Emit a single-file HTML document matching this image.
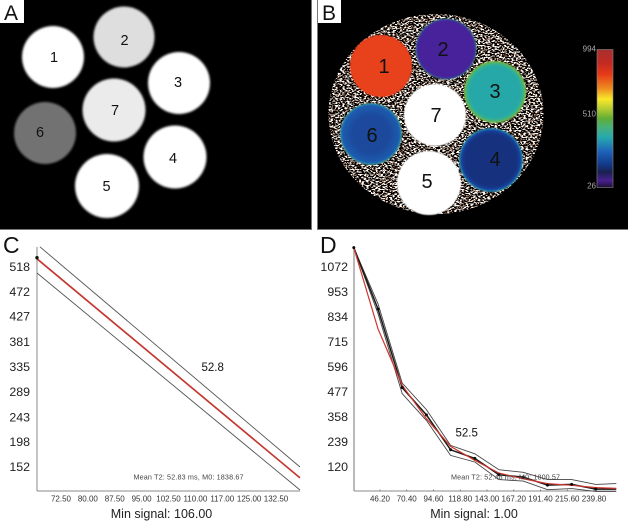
<!DOCTYPE html>
<html lang="en">
<head>
<meta charset="utf-8">
<title>T2 phantom maps and decay curves</title>
<style>
html,body{margin:0;padding:0;background:#fff;width:628px;height:523px;overflow:hidden}
svg{display:block;font-family:"Liberation Sans",sans-serif}
.lbl{font-size:21px;fill:#111}
.tick{font-size:12.4px;fill:#222;text-anchor:end;dominant-baseline:central}
.xtick{font-size:8px;fill:#333;text-anchor:middle;dominant-baseline:central}
.xtitle{font-size:12.5px;fill:#222;text-anchor:middle;dominant-baseline:central}
.note{font-size:7.2px;fill:#444;dominant-baseline:central}
.val{font-size:11.5px;fill:#111;dominant-baseline:central}
.na{font-size:14.5px;fill:#111;text-anchor:middle;dominant-baseline:central}
.nb{font-size:20px;fill:#111;text-anchor:middle;dominant-baseline:central}
.cb{font-size:8px;fill:#aaa;text-anchor:end;dominant-baseline:central}
</style>
</head>
<body>
<svg id="fig" width="628" height="523" viewBox="0 0 628 523" xmlns="http://www.w3.org/2000/svg">
<defs>
<filter id="soft" x="-10%" y="-10%" width="120%" height="120%"><feGaussianBlur stdDeviation="1"/></filter>
<filter id="soft2" x="-5%" y="-5%" width="110%" height="110%"><feGaussianBlur stdDeviation="0.5"/></filter>
<filter id="speckle" x="0" y="0" width="100%" height="100%" color-interpolation-filters="sRGB">
<feTurbulence type="fractalNoise" baseFrequency="0.42 0.75" numOctaves="2" seed="7"/>
<feColorMatrix type="matrix" values="14 0 0 0 -6.85  14 0 0 0 -7  14 0 0 0 -7.1  0 0 0 0 1"/>
<feGaussianBlur stdDeviation="0.3"/>
</filter>
<linearGradient id="cbar" x1="0" y1="0" x2="0" y2="1">
<stop offset="0" stop-color="#a83030"/><stop offset=".1" stop-color="#c42a22"/><stop offset=".18" stop-color="#e63a18"/>
<stop offset=".28" stop-color="#ee8a20"/><stop offset=".36" stop-color="#f8e92a"/><stop offset=".42" stop-color="#c0cf30"/>
<stop offset=".5" stop-color="#5fae35"/><stop offset=".57" stop-color="#45b080"/><stop offset=".64" stop-color="#25a8b0"/>
<stop offset=".74" stop-color="#1f62b8"/><stop offset=".83" stop-color="#123a8a"/><stop offset=".89" stop-color="#1a2050"/>
<stop offset=".95" stop-color="#4a2090"/><stop offset="1" stop-color="#1a1030"/>
</linearGradient>
<radialGradient id="g1"><stop offset=".9" stop-color="#e8431c"/><stop offset="1" stop-color="#ea3a18"/></radialGradient>
<radialGradient id="g2"><stop offset=".9" stop-color="#47229a"/><stop offset=".97" stop-color="#3a3a98"/><stop offset="1" stop-color="#3fa090"/></radialGradient>
<radialGradient id="g3"><stop offset=".8" stop-color="#26a8a8"/><stop offset=".9" stop-color="#35b090"/><stop offset=".97" stop-color="#63b848"/><stop offset="1" stop-color="#90b840"/></radialGradient>
<radialGradient id="g4"><stop offset=".8" stop-color="#15307e"/><stop offset=".92" stop-color="#16409a"/><stop offset=".98" stop-color="#1f80b0"/><stop offset="1" stop-color="#50a8a0"/></radialGradient>
<radialGradient id="g6"><stop offset=".6" stop-color="#1a4a9c"/><stop offset=".92" stop-color="#1c5cb0"/><stop offset=".98" stop-color="#2a90a8"/><stop offset="1" stop-color="#80b070"/></radialGradient>
<clipPath id="disc"><ellipse cx="436" cy="114" rx="107.5" ry="100"/></clipPath>
</defs>

<!-- Panel A -->
<g>
<rect x="0" y="0" width="312" height="230" fill="#777"/>
<rect x="0" y="0" width="311" height="229" fill="#000"/>
<g filter="url(#soft)">
<circle cx="53" cy="57" r="31" fill="#fff"/>
<circle cx="124" cy="37" r="30.5" fill="#dedede"/>
<circle cx="179" cy="83" r="31" fill="#fff"/>
<circle cx="114" cy="110" r="31.5" fill="#ebebeb"/>
<circle cx="45" cy="133" r="31" fill="#727272"/>
<circle cx="175" cy="157" r="31.5" fill="#fff"/>
<circle cx="107" cy="186" r="32" fill="#fff"/>
</g>
<text class="na" x="54" y="58">1</text><text class="na" x="124.500" y="41">2</text><text class="na" x="178" y="83">3</text>
<text class="na" x="173" y="159">4</text><text class="na" x="106.500" y="187">5</text><text class="na" x="40" y="133">6</text><text class="na" x="115" y="111">7</text>
<rect x="0" y="0" width="24" height="23" fill="#fff"/>
<text class="lbl" x="4" y="20">A</text>
</g>

<!-- Panel B -->
<g>
<rect x="317" y="0" width="311" height="230" fill="#777"/>
<rect x="318" y="0" width="310" height="229" fill="#000"/>
<g clip-path="url(#disc)"><rect x="325" y="10" width="225" height="210" filter="url(#speckle)"/></g>
<g filter="url(#soft2)">
<circle cx="381" cy="66" r="31" fill="url(#g1)"/>
<circle cx="446" cy="49" r="30.500" fill="url(#g2)"/>
<circle cx="495" cy="92" r="31" fill="url(#g3)"/>
<circle cx="435" cy="115" r="31" fill="#fff"/>
<circle cx="371" cy="134" r="31" fill="url(#g6)"/>
<circle cx="491" cy="160" r="32" fill="url(#g4)"/>
<circle cx="429" cy="183" r="32" fill="#fff"/>
</g>
<text class="nb" x="384" y="67">1</text><text class="nb" x="443" y="50">2</text><text class="nb" x="495" y="92">3</text>
<text class="nb" x="495" y="160">4</text><text class="nb" x="427" y="182">5</text><text class="nb" x="372" y="136">6</text><text class="nb" x="436" y="116">7</text>
<rect x="318" y="0" width="23" height="23" fill="#fff"/>
<text class="lbl" x="322" y="20">B</text>
<rect x="597" y="49.500" width="16" height="138" fill="url(#cbar)" stroke="#888" stroke-width=".6"/>
<text class="cb" x="596" y="49">994</text>
<text class="cb" x="596" y="114">510</text>
<text class="cb" x="596" y="186">26</text>
</g>

<text class="lbl" x="3" y="253" style="font-size:23px">C</text>
<text class="lbl" x="320" y="253" style="font-size:23px">D</text>
<text class="xtitle" x="161.500" y="514">Min signal: 106.00</text>
<text class="xtitle" x="474" y="514">Min signal: 1.00</text>
<text class="val" x="201.500" y="368">52.8</text>
<text class="val" x="455.500" y="433.500">52.5</text>
<g id="chartC"></g>
<g id="chartD"></g>
<text class="note" x="133.500" y="477" textLength="110">Mean T2: 52.83 ms, M0: 1838.67</text>
<text class="note" x="451" y="477" textLength="109">Mean T2: 52.48 ms, M0: 1800.57</text>
</svg>

<script>
// Panel C data
const cYTicks = [518, 472, 427, 381, 335, 289, 243, 198, 152];
const cXTicks = [72.5, 80, 87.5, 95, 102.5, 110, 117.5, 125, 132.5];
const cXTickLabels = ["72.50", "80.00", "87.50", "95.00", "102.50", "110.00", "117.00", "125.00", "132.50"];
const cTimes = [65.8, 139.2];
const cUpperTimes = [66.6, 139.2];
const cFit = [533, 132];
const cUpper = [555, 152];
const cLower = [507, 110];
const cPointTime = [65.8];
const cPointValue = [535];

// Panel D data
const dYTicks = [1072, 953, 834, 715, 596, 477, 358, 239, 120];
const dXTicks = [46.2, 70.4, 94.6, 118.8, 143, 167.2, 191.4, 215.6, 239.8];
const dXTickLabels = ["46.20", "70.40", "94.60", "118.80", "143.00", "167.20", "191.40", "215.60", "239.80"];
const dTimes = [22.5, 44.4, 66.3, 88.2, 110.1, 132, 153.9, 175.8, 197.7, 219.6, 241.5, 260];
const dSignal = [1164, 872, 498, 368, 202, 161, 83, 72, 34, 37, 15, 15];
const dUpper = [1164, 897, 520, 393, 223, 183, 107, 95, 60, 60, 37, 41];
const dLower = [1164, 850, 469, 342, 175, 144, 60, 53, 12, 17, 4, 4];
const dFit = [1164, 778, 509, 350, 218, 152, 91, 64, 41, 33, 22, 18];

const NS = "http://www.w3.org/2000/svg";
function add(parent, tag, attrs, text) {
  const el = document.createElementNS(NS, tag);
  for (const k in attrs) el.setAttribute(k, attrs[k]);
  if (text !== undefined) el.textContent = text;
  parent.appendChild(el);
  return el;
}
// Axis functions
const cx = v => 61 + (v - 72.5) * (215 / 60);
const cy = v => 267 + (518 - v) * (200 / 366);
const dx = v => 380 + (v - 46.2) * (214 / 193.6);
const dy = v => 467 + (120 - v) * (200 / 952);
function pts(xs, ys, fx, fy) {
  return xs.map((x, i) => fx(x).toFixed(1) + "," + fy(ys[i]).toFixed(1)).join(" ");
}

const C = document.getElementById("chartC");
const D = document.getElementById("chartD");

// Panel C axes
let e;
e = add(C, "line", {x1: 37, y1: 247, x2: 37, y2: 491, stroke: "#8a8a8a", "stroke-width": 1});


e = add(C, "line", {x1: 37, y1: 491, x2: 300, y2: 491, stroke: "#8a8a8a", "stroke-width": 1});


cYTicks.forEach(v => {
  const t = add(C, "text", {class: "tick", x: 30, y: cy(v)}, String(v));
  
  
});
cXTicks.forEach((v, i) => {
  const t = add(C, "text", {class: "xtick", x: cx(v), y: 499}, cXTickLabels[i]);
  
  
});
// Panel C series
e = add(C, "polyline", {points: pts(cUpperTimes, cUpper, cx, cy), fill: "none", stroke: "#555", "stroke-width": 0.9});


e = add(C, "polyline", {points: pts(cTimes, cLower, cx, cy), fill: "none", stroke: "#555", "stroke-width": 0.9});


e = add(C, "polyline", {points: pts(cTimes, cFit, cx, cy), fill: "none", stroke: "#c23a30", "stroke-width": 1.7});


cPointTime.forEach((v, i) => {
  const p = add(C, "circle", {cx: cx(v), cy: cy(cPointValue[i]), r: 1.7, fill: "#111"});
  
  
});

// Panel D axes
e = add(D, "line", {x1: 354, y1: 247, x2: 354, y2: 491, stroke: "#a8a8a8", "stroke-width": 1.6});


e = add(D, "line", {x1: 354, y1: 491, x2: 616, y2: 491, stroke: "#8a8a8a", "stroke-width": 1});


dYTicks.forEach(v => {
  const t = add(D, "text", {class: "tick", x: 348, y: dy(v)}, String(v));
  
  
});
dXTicks.forEach((v, i) => {
  const t = add(D, "text", {class: "xtick", x: dx(v), y: 499}, dXTickLabels[i]);
  
  
  const m = add(D, "line", {x1: dx(v), y1: 489.5, x2: dx(v), y2: 491, stroke: "#666", "stroke-width": 0.8});
  
  
});
// Panel D series
e = add(D, "polyline", {points: pts(dTimes, dUpper, dx, dy), fill: "none", stroke: "#444", "stroke-width": 0.9});


e = add(D, "polyline", {points: pts(dTimes, dLower, dx, dy), fill: "none", stroke: "#444", "stroke-width": 0.9});


e = add(D, "polyline", {points: pts(dTimes, dSignal, dx, dy), fill: "none", stroke: "#1a1a1a", "stroke-width": 1.5});


e = add(D, "polyline", {points: pts(dTimes, dFit, dx, dy), fill: "none", stroke: "#d2352c", "stroke-width": 1.2});


dTimes.forEach((v, i) => {
  if (i === dTimes.length - 1) return;
  const p = add(D, "circle", {cx: dx(v), cy: dy(dSignal[i]), r: 1.5, fill: "#0a0a0a"});
  
  
});
</script>
</body>
</html>
